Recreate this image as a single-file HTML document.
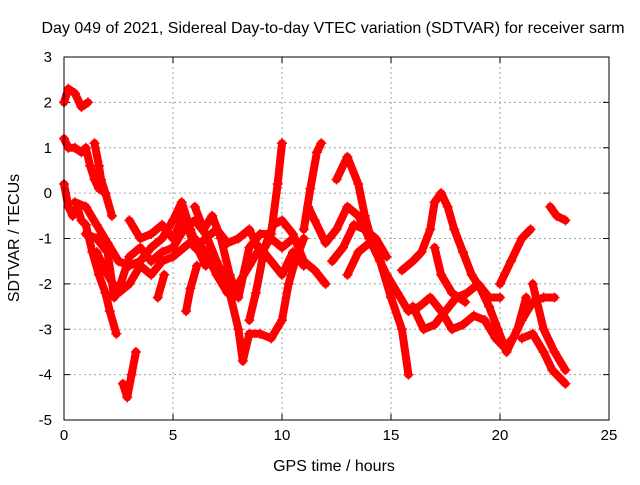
<!DOCTYPE html>
<html><head><meta charset="utf-8"><style>
body{margin:0;background:#fff;}
svg text{font-family:"Liberation Sans",sans-serif;font-size:15px;fill:#000;}
svg text.big{font-size:16px;}
</style></head><body>
<svg width="640" height="480">
<rect width="640" height="480" fill="#fff"/>
<text class="big" x="333" y="33" text-anchor="middle">Day 049 of 2021, Sidereal Day-to-day VTEC variation (SDTVAR) for receiver sarm</text>
<g id="grid"></g>
<g id="ticks"></g>
<g id="marks"></g>
<rect x="64" y="57" width="545" height="363" fill="none" stroke="#000" stroke-width="1"/>
<text class="big" x="334" y="471" text-anchor="middle">GPS time / hours</text>
<text class="big" transform="translate(19,238) rotate(-90)" text-anchor="middle">SDTVAR / TECUs</text>
</svg>
<script>
const xTicks=[0,5,10,15,20,25];
const yTicks=[3,2,1,0,-1,-2,-3,-4,-5];
const t1=[[0,2.0],[0.2,2.3],[0.5,2.2],[0.8,1.9],[1.1,2.0]];
const t2=[[0,1.2],[0.2,1.0],[0.5,1.0],[0.8,0.9],[1.0,1.0],[1.2,0.6],[1.4,0.3],[1.6,0.1],[1.9,0.0]];
const t2b=[[1.4,1.1],[1.6,0.6],[1.7,0.3],[1.9,0.0],[2.2,-0.5]];
const t3=[[0,0.2],[0.2,-0.3],[0.4,-0.5],[0.6,-0.3],[0.8,-0.6],[1.0,-0.7],[1.3,-1.3],[1.6,-1.8],[1.9,-2.2],[2.1,-2.6],[2.4,-3.1]];
const t4=[[0.5,-0.2],[1,-0.3],[1.5,-0.7],[2,-1.1],[2.5,-1.5],[3,-1.6],[3.5,-1.5],[4,-1.2],[4.5,-1.0],[5,-0.6],[5.4,-0.2],[5.8,-0.8],[6.2,-1.3],[6.5,-1.6]];
const t5=[[2.7,-4.2],[2.9,-4.5],[3.1,-4.0],[3.3,-3.5]];
const t6=[[1.0,-0.9],[1.5,-1.0],[2,-1.3],[2.3,-2.3],[2.6,-2.0],[3,-1.4],[3.5,-1.2],[4,-1.5],[4.5,-1.3],[5,-1.2],[5.5,-0.8],[6,-0.6],[6.5,-0.9],[7,-1.5],[7.5,-2.0],[8,-3.0],[8.2,-3.7],[8.5,-3.1],[9,-3.1],[9.5,-3.2],[10,-2.8],[10.3,-2.0],[10.6,-1.5],[11,-1.0]];
const t7=[[6,-0.3],[6.4,-0.8],[6.8,-0.5],[7.2,-1.0],[7.6,-1.8],[8,-2.3],[8.5,-1.2],[9,-0.9],[9.5,-0.9],[9.8,0.2],[10,1.1]];
const t8=[[8.5,-2.8],[8.8,-2.2],[9.2,-1.2],[9.6,-0.7],[10,-0.6],[10.5,-0.9],[11,-1.5],[11.5,-1.7],[12,-2.0]];
const t9=[[11,-0.8],[11.3,0.1],[11.6,0.9],[11.8,1.1]];
const t9b=[[11.2,-0.3],[11.5,-0.6],[12,-1.1],[12.5,-0.8],[13,-0.3],[13.5,-0.5],[14,-1.0],[14.5,-1.5],[15,-2.3],[15.5,-3.0],[15.8,-4.0]];
const t10=[[12.5,0.3],[13,0.8],[13.5,0.2],[13.8,-0.5],[14.2,-1.2],[14.8,-1.8],[15.3,-2.2],[15.8,-2.6],[16.3,-2.5],[16.8,-2.3],[17.3,-2.6],[17.8,-3.0],[18.3,-2.9],[18.8,-2.7],[19.3,-2.8],[19.8,-3.2],[20.2,-3.4],[20.6,-3.2],[21,-2.8],[21.5,-2.4],[22,-2.3],[22.5,-2.3]];
const t11=[[15.5,-1.7],[16,-1.5],[16.4,-1.3],[16.8,-0.8],[17,-0.2],[17.3,0.0],[17.6,-0.3],[17.9,-0.8],[18.3,-1.3],[18.7,-1.8],[19.1,-2.1],[19.5,-2.5],[19.9,-3.0],[20.3,-3.5],[20.8,-3.0],[21.2,-2.3]];
const t11b=[[20,-2.0],[20.5,-1.5],[21,-1.0],[21.4,-0.8]];
const t12=[[16,-2.5],[16.5,-3.0],[17,-2.9],[17.5,-2.6],[18,-2.3],[18.5,-2.2],[19,-2.0],[19.5,-2.3],[20,-2.3]];
const t13=[[21.5,-2.0],[22,-3.0],[22.5,-3.5],[23,-3.9]];
const t13b=[[21,-3.2],[21.5,-3.1],[22,-3.5],[22.4,-3.9],[23,-4.2]];
const t14=[[22.3,-0.3],[22.6,-0.5],[23,-0.6]];
const t15=[[17,-1.2],[17.3,-1.8],[17.8,-2.2],[18.4,-2.4]];
const t16=[[1.5,-1.3],[2,-1.8],[2.5,-2.2],[3,-2.0],[3.5,-1.6],[4,-1.8],[4.5,-1.5],[5,-1.4],[5.5,-1.2],[6,-1.0],[6.5,-1.3],[7,-1.8],[7.5,-2.2],[8,-2.0],[8.5,-1.6],[9,-1.2],[9.5,-1.5],[10,-1.8],[10.5,-1.3],[11,-1.6]];
const t17=[[3,-0.6],[3.5,-1.0],[4,-0.9],[4.5,-0.7],[5,-1.0],[5.5,-0.5],[6,-1.2],[6.5,-1.0],[7,-0.8],[7.5,-1.1],[8,-1.0],[8.5,-0.8],[9,-1.3],[9.5,-1.0],[10,-1.2],[10.5,-1.0]];
const t18=[[4.3,-2.3],[4.6,-1.8]];
const t19=[[5.6,-2.6],[5.8,-2.1],[6.1,-1.6]];
const t20=[[12.3,-1.5],[12.8,-1.2],[13.3,-0.7],[13.8,-0.8],[14.3,-1.0],[14.8,-1.4]];
const t21=[[13,-1.8],[13.5,-1.3],[14,-1.1]];
const series=[t1,t2,t2b,t3,t4,t5,t6,t7,t8,t9,t9b,t10,t11,t11b,t12,t13,t13b,t14,t15,t16,t17,t18,t19,t20,t21];
const NS="http://www.w3.org/2000/svg";
const X0=64,X1=609,Y0=420,Y1=57;
function sx(v){return X0+(v-0)/25*(X1-X0);}
function sy(v){return Y0-(v+5)/8*(Y0-Y1);}
const grid=document.getElementById('grid'),ticks=document.getElementById('ticks'),marks=document.getElementById('marks');
function mk(tag,attrs,parent){const e=document.createElementNS(NS,tag);for(const k in attrs)e.setAttribute(k,attrs[k]);parent.appendChild(e);return e;}
xTicks.forEach(v=>{
 const x=sx(v);
 if(v>0&&v<25){const l=mk('line',{x1:x,x2:x,y1:Y1,y2:Y0,stroke:'#a0a0a0','stroke-dasharray':'2,3'},grid);
 
 }
 mk('line',{x1:x,x2:x,y1:Y0,y2:Y0-6,stroke:'#000'},ticks);
 mk('line',{x1:x,x2:x,y1:Y1,y2:Y1+6,stroke:'#000'},ticks);
 const t=mk('text',{x:x,y:Y0+20,'text-anchor':'middle'},ticks);t.textContent=v;
 
 
});
yTicks.forEach(v=>{
 const y=sy(v);
 if(v>-5&&v<3){const l=mk('line',{x1:X0,x2:X1,y1:y,y2:y,stroke:'#a0a0a0','stroke-dasharray':'2,3'},grid);
 
 }
 mk('line',{x1:X0,x2:X0+6,y1:y,y2:y,stroke:'#000'},ticks);
 mk('line',{x1:X1,x2:X1-6,y1:y,y2:y,stroke:'#000'},ticks);
 const t=mk('text',{x:X0-12,y:y+5,'text-anchor':'end'},ticks);t.textContent=v;
 
 
});
series.forEach(s=>{
 const p=mk('polyline',{points:s.map(d=>sx(d[0])+','+sy(d[1])).join(' '),fill:'none',stroke:'#ff0000','stroke-width':8,'stroke-linejoin':'round','stroke-linecap':'round'},marks);
 
 
 s.forEach(d=>{
  const x=sx(d[0]),y=sy(d[1]);
  const m=mk('path',{d:`M${x-5},${y}H${x+5}M${x},${y-5}V${y+5}`,stroke:'#ff0000','stroke-width':1.5},marks);
  
  
 });
});
</script>
</body></html>
